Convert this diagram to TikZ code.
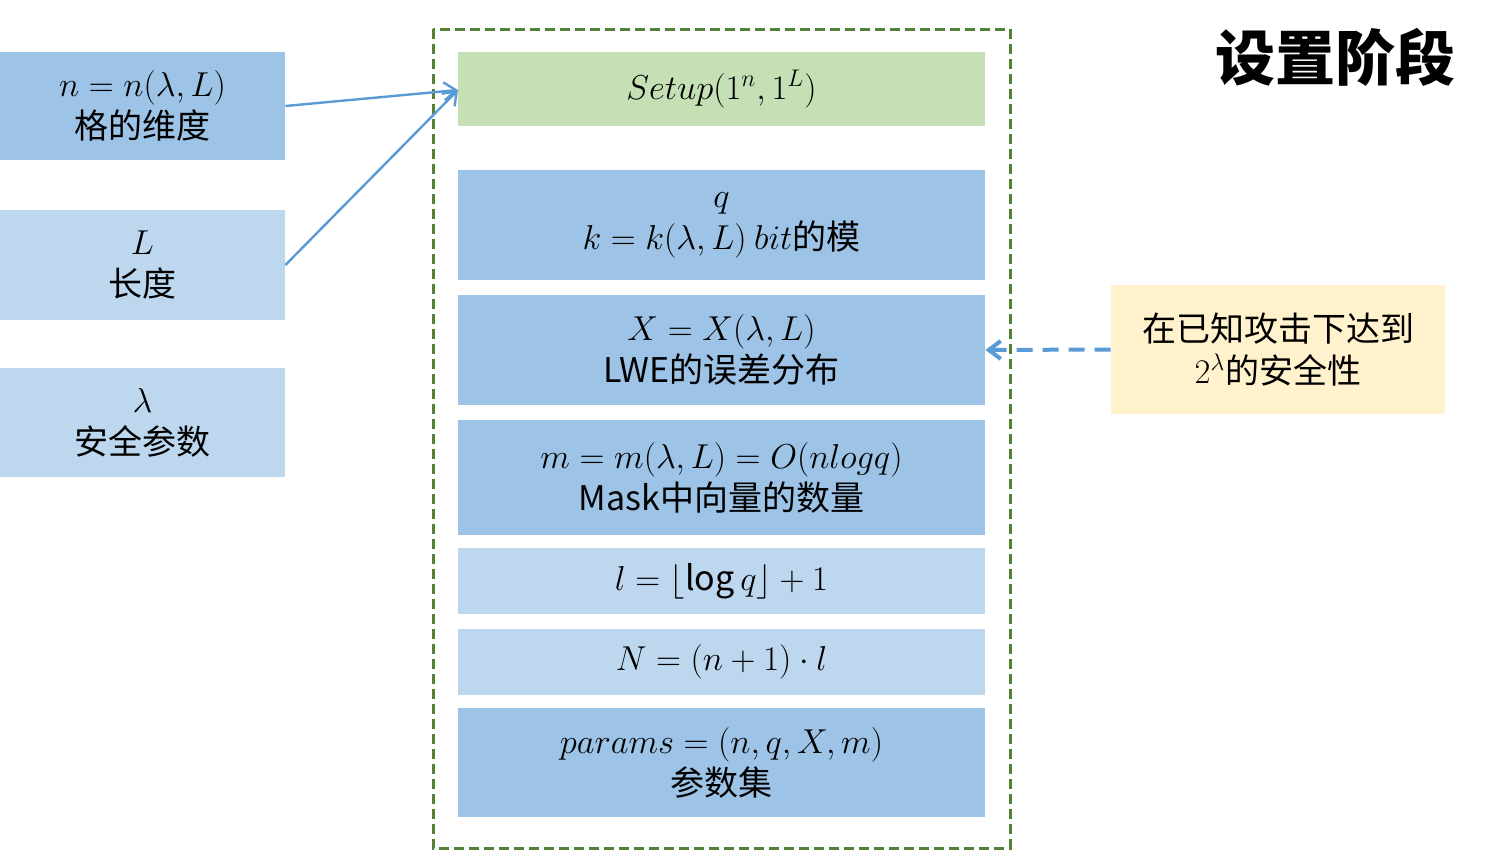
\documentclass[tikz,border=0pt]{standalone}
\usepackage{fontspec}
\setmainfont{Noto Sans CJK SC}
\usetikzlibrary{arrows.meta}
\definecolor{dblue}{HTML}{9DC3E6}
\definecolor{lblue}{HTML}{BDD7EE}
\definecolor{lgreen}{HTML}{C5E0B4}
\definecolor{fgreen}{HTML}{548235}
\definecolor{ylw}{HTML}{FFF2CC}
\definecolor{arr}{HTML}{5B9BD5}
\tikzset{
  bx/.style={inner sep=0pt,align=center,font=\fontsize{17}{21}\selectfont},
  conn/.style={draw=arr,line width=1.2pt,-{Straight Barb[length=6pt,width=9pt]}}
}
\newcommand{\bxat}[6]{% name, x1,y1,x2,y2, color
  \fill[#6] (#2,-#3) rectangle (#4,-#5);
  \coordinate (#1nw) at (#2,-#3); \coordinate (#1se) at (#4,-#5);
}
\begin{document}
\begin{tikzpicture}[x=0.5pt,y=0.5pt]
\useasboundingbox (0,0) rectangle (1487,-851);
\fill[white] (0,0) rectangle (1487,-851);
% left boxes
\node[bx,fill=dblue,minimum width=142.5pt,minimum height=54pt] (nb) at (142.5,-106) {$n=n(\lambda,L)$\\格的维度};
\node[bx,fill=lblue,minimum width=142.5pt,minimum height=55pt] (lb) at (142.5,-265) {$L$\\长度};
\node[bx,fill=lblue,minimum width=142.5pt,minimum height=54.5pt] (lam) at (142.5,-422.5) {$\lambda$\\安全参数};
% frame
\draw[fgreen,dashed,line width=1.5pt,dash pattern=on 5pt off 2.5pt] (433,-29) rectangle (1010,-848);
% center boxes
\node[bx,fill=lgreen,minimum width=263.5pt,minimum height=37pt] (setup) at (721.5,-89) {$Setup(1^n,1^L)$};
\node[bx,fill=dblue,minimum width=263.5pt,minimum height=55pt] (q) at (721.5,-225) {$q$\\$k=k(\lambda,L)\ bit$的模};
\node[bx,fill=dblue,minimum width=263.5pt,minimum height=55pt] (x) at (721.5,-350) {$X=X(\lambda,L)$\\LWE的误差分布};
\node[bx,fill=dblue,minimum width=263.5pt,minimum height=57.5pt] (m) at (721.5,-477.5) {$m=m(\lambda,L)=O(nlogq)$\\Mask中向量的数量};
\node[bx,fill=lblue,minimum width=263.5pt,minimum height=33pt] (l) at (721.5,-581) {$l=\lfloor\log q\rfloor+1$};
\node[bx,fill=lblue,minimum width=263.5pt,minimum height=33pt] (N) at (721.5,-662) {$N=(n+1)\cdot l$};
\node[bx,fill=dblue,minimum width=263.5pt,minimum height=54.5pt] (p) at (721.5,-762.5) {$params=(n,q,X,m)$\\参数集};
% yellow
\node[bx,fill=ylw,minimum width=167pt,minimum height=64.5pt] (y) at (1278,-349.5) {在已知攻击下达到\\$2^{\lambda}$的安全性};
% title
\node[inner sep=0pt,font=\fontsize{30}{34}\selectfont\bfseries] (t) at (1335,-57) {设置阶段};
% arrows
\coordinate (tgt) at (458,-90);
\draw[conn] (nb.east) -- (tgt);
\draw[conn] (lb.east) -- (tgt);
\draw[conn,line width=2pt,dash pattern=on 8pt off 5pt] (y.west) -- (x.east);
\end{tikzpicture}
\end{document}
